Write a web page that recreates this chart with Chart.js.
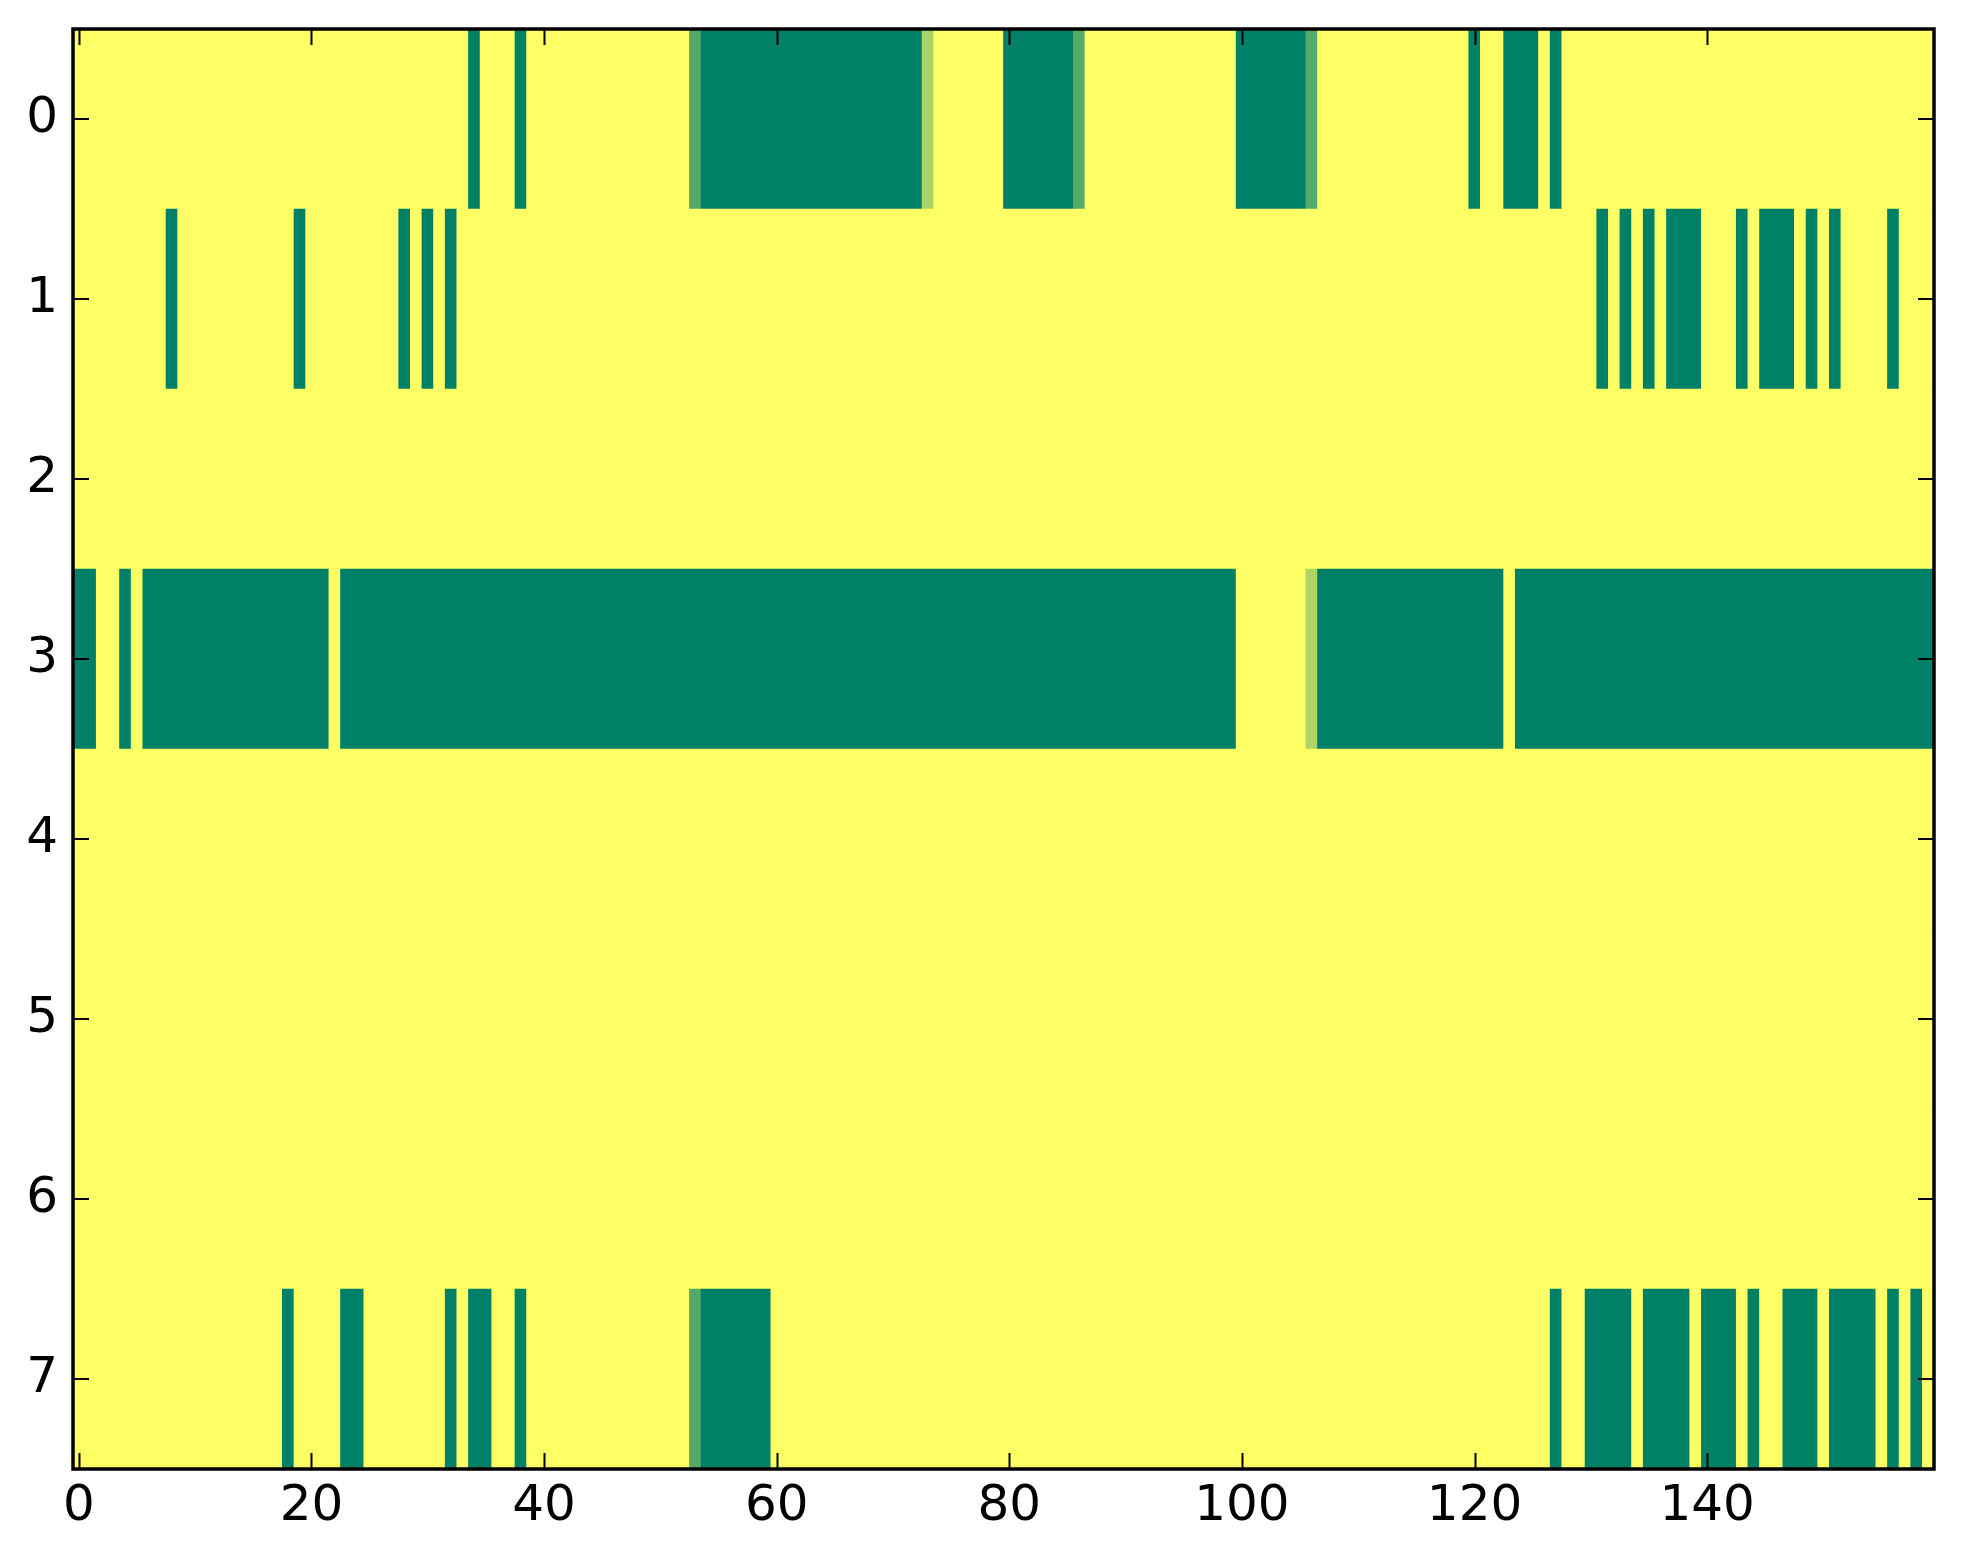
<!DOCTYPE html>
<html>
<head>
<meta charset="utf-8">
<script src="https://cdn.jsdelivr.net/npm/chart.js@4.4.1/dist/chart.umd.min.js"></script>
<style>
  html, body { margin: 0; padding: 0; background: #fff; }
  #box { width: 1963px; height: 1564px; }
</style>
</head>
<body>
<div id="box"><canvas id="heat"></canvas></div>
<script>
// cell values, 1 = yellow end of the map, 0 = green end
const rowLabels = ['0', '1', '2', '3', '4', '5', '6', '7'];
const xTickValues = [0, 20, 40, 60, 80, 100, 120, 140];

const row0 = [
  1,1,1,1,1,1,1,1,1,1, 1,1,1,1,1,1,1,1,1,1,
  1,1,1,1,1,1,1,1,1,1, 1,1,1,1,0,1,1,1,0,1,
  1,1,1,1,1,1,1,1,1,1, 1,1,1,0.33,0,0,0,0,0,0,
  0,0,0,0,0,0,0,0,0,0, 0,0,0,0.67,1,1,1,1,1,1,
  0,0,0,0,0,0,0.33,1,1,1, 1,1,1,1,1,1,1,1,1,1,
  0,0,0,0,0,0,0.33,1,1,1, 1,1,1,1,1,1,1,1,1,1,
  0,1,1,0,0,0,1,0,1,1, 1,1,1,1,1,1,1,1,1,1,
  1,1,1,1,1,1,1,1,1,1, 1,1,1,1,1,1,1,1,1,1
];
const row1 = [
  1,1,1,1,1,1,1,1,0,1, 1,1,1,1,1,1,1,1,1,0,
  1,1,1,1,1,1,1,1,0,1, 0,1,0,1,1,1,1,1,1,1,
  1,1,1,1,1,1,1,1,1,1, 1,1,1,1,1,1,1,1,1,1,
  1,1,1,1,1,1,1,1,1,1, 1,1,1,1,1,1,1,1,1,1,
  1,1,1,1,1,1,1,1,1,1, 1,1,1,1,1,1,1,1,1,1,
  1,1,1,1,1,1,1,1,1,1, 1,1,1,1,1,1,1,1,1,1,
  1,1,1,1,1,1,1,1,1,1, 1,0,1,0,1,0,1,0,0,0,
  1,1,1,0,1,0,0,0,1,0, 1,0,1,1,1,1,0,1,1,1
];
const row2 = [
  1,1,1,1,1,1,1,1,1,1, 1,1,1,1,1,1,1,1,1,1,
  1,1,1,1,1,1,1,1,1,1, 1,1,1,1,1,1,1,1,1,1,
  1,1,1,1,1,1,1,1,1,1, 1,1,1,1,1,1,1,1,1,1,
  1,1,1,1,1,1,1,1,1,1, 1,1,1,1,1,1,1,1,1,1,
  1,1,1,1,1,1,1,1,1,1, 1,1,1,1,1,1,1,1,1,1,
  1,1,1,1,1,1,1,1,1,1, 1,1,1,1,1,1,1,1,1,1,
  1,1,1,1,1,1,1,1,1,1, 1,1,1,1,1,1,1,1,1,1,
  1,1,1,1,1,1,1,1,1,1, 1,1,1,1,1,1,1,1,1,1
];
const row3 = [
  0,0,1,1,0,1,0,0,0,0, 0,0,0,0,0,0,0,0,0,0,
  0,0,1,0,0,0,0,0,0,0, 0,0,0,0,0,0,0,0,0,0,
  0,0,0,0,0,0,0,0,0,0, 0,0,0,0,0,0,0,0,0,0,
  0,0,0,0,0,0,0,0,0,0, 0,0,0,0,0,0,0,0,0,0,
  0,0,0,0,0,0,0,0,0,0, 0,0,0,0,0,0,0,0,0,0,
  1,1,1,1,1,1,0.67,0,0,0, 0,0,0,0,0,0,0,0,0,0,
  0,0,0,1,0,0,0,0,0,0, 0,0,0,0,0,0,0,0,0,0,
  0,0,0,0,0,0,0,0,0,0, 0,0,0,0,0,0,0,0,0,0
];
const row4 = [
  1,1,1,1,1,1,1,1,1,1, 1,1,1,1,1,1,1,1,1,1,
  1,1,1,1,1,1,1,1,1,1, 1,1,1,1,1,1,1,1,1,1,
  1,1,1,1,1,1,1,1,1,1, 1,1,1,1,1,1,1,1,1,1,
  1,1,1,1,1,1,1,1,1,1, 1,1,1,1,1,1,1,1,1,1,
  1,1,1,1,1,1,1,1,1,1, 1,1,1,1,1,1,1,1,1,1,
  1,1,1,1,1,1,1,1,1,1, 1,1,1,1,1,1,1,1,1,1,
  1,1,1,1,1,1,1,1,1,1, 1,1,1,1,1,1,1,1,1,1,
  1,1,1,1,1,1,1,1,1,1, 1,1,1,1,1,1,1,1,1,1
];
const row5 = [
  1,1,1,1,1,1,1,1,1,1, 1,1,1,1,1,1,1,1,1,1,
  1,1,1,1,1,1,1,1,1,1, 1,1,1,1,1,1,1,1,1,1,
  1,1,1,1,1,1,1,1,1,1, 1,1,1,1,1,1,1,1,1,1,
  1,1,1,1,1,1,1,1,1,1, 1,1,1,1,1,1,1,1,1,1,
  1,1,1,1,1,1,1,1,1,1, 1,1,1,1,1,1,1,1,1,1,
  1,1,1,1,1,1,1,1,1,1, 1,1,1,1,1,1,1,1,1,1,
  1,1,1,1,1,1,1,1,1,1, 1,1,1,1,1,1,1,1,1,1,
  1,1,1,1,1,1,1,1,1,1, 1,1,1,1,1,1,1,1,1,1
];
const row6 = [
  1,1,1,1,1,1,1,1,1,1, 1,1,1,1,1,1,1,1,1,1,
  1,1,1,1,1,1,1,1,1,1, 1,1,1,1,1,1,1,1,1,1,
  1,1,1,1,1,1,1,1,1,1, 1,1,1,1,1,1,1,1,1,1,
  1,1,1,1,1,1,1,1,1,1, 1,1,1,1,1,1,1,1,1,1,
  1,1,1,1,1,1,1,1,1,1, 1,1,1,1,1,1,1,1,1,1,
  1,1,1,1,1,1,1,1,1,1, 1,1,1,1,1,1,1,1,1,1,
  1,1,1,1,1,1,1,1,1,1, 1,1,1,1,1,1,1,1,1,1,
  1,1,1,1,1,1,1,1,1,1, 1,1,1,1,1,1,1,1,1,1
];
const row7 = [
  1,1,1,1,1,1,1,1,1,1, 1,1,1,1,1,1,1,1,0,1,
  1,1,1,0,0,1,1,1,1,1, 1,1,0,1,0,0,1,1,0,1,
  1,1,1,1,1,1,1,1,1,1, 1,1,1,0.33,0,0,0,0,0,0,
  1,1,1,1,1,1,1,1,1,1, 1,1,1,1,1,1,1,1,1,1,
  1,1,1,1,1,1,1,1,1,1, 1,1,1,1,1,1,1,1,1,1,
  1,1,1,1,1,1,1,1,1,1, 1,1,1,1,1,1,1,1,1,1,
  1,1,1,1,1,1,1,0,1,1, 0,0,0,0,1,0,0,0,0,1,
  0,0,0,1,0,1,1,0,0,0, 1,0,0,0,0,1,0,1,0,1
];

const rows = [row0, row1, row2, row3, row4, row5, row6, row7];

// matplotlib "summer" map
function summer(v) {
  const r = Math.round(255 * v);
  const g = Math.round(255 * (0.5 + v / 2));
  return 'rgb(' + r + ',' + g + ',102)';
}

// merge neighbouring equal cells into one floating bar per run (no seams)
const cells = [];
const cellColors = [];
rows.forEach((vals, r) => {
  let start = 0;
  for (let c = 1; c <= vals.length; c++) {
    if (c === vals.length || vals[c] !== vals[start]) {
      cells.push({x: [start - 0.5, c - 0.5], y: rowLabels[r]});
      cellColors.push(summer(vals[start]));
      start = c;
    }
  }
});

const tickFont = {family: 'DejaVu Sans', size: 50};

// inward ticks on all four sides plus the black frame
const framePlugin = {
  id: 'frame',
  afterDraw(chart) {
    const {ctx, chartArea: a} = chart;
    const x = chart.scales.x, y = chart.scales.y;
    const len = 16;
    ctx.save();
    ctx.strokeStyle = '#000';
    ctx.lineWidth = 2;
    ctx.beginPath();
    x.ticks.forEach(t => {
      const px = Math.round(x.getPixelForValue(t.value)) + 0.5;
      ctx.moveTo(px, a.bottom); ctx.lineTo(px, a.bottom - len);
      ctx.moveTo(px, a.top); ctx.lineTo(px, a.top + len);
    });
    y.ticks.forEach((t, i) => {
      const py = Math.round(y.getPixelForTick(i));
      ctx.moveTo(a.left, py); ctx.lineTo(a.left + len, py);
      ctx.moveTo(a.right, py); ctx.lineTo(a.right - len, py);
    });
    ctx.stroke();
    ctx.lineWidth = 3.5;
    ctx.strokeRect(a.left, a.top, a.right - a.left, a.bottom - a.top);
    ctx.restore();
  }
};

new Chart(document.getElementById('heat'), {
  type: 'bar',
  data: {
    labels: rowLabels,
    datasets: [{
      data: cells,
      backgroundColor: cellColors,
      borderWidth: 0,
      borderSkipped: false,
      barPercentage: 1,
      categoryPercentage: 1
    }]
  },
  options: {
    indexAxis: 'y',
    responsive: true,
    maintainAspectRatio: false,
    animation: false,
    layout: {padding: {top: 29, right: 29, left: 0, bottom: 0}},
    plugins: {legend: {display: false}, tooltip: {enabled: false}},
    scales: {
      x: {
        type: 'linear',
        position: 'bottom',
        min: -0.5,
        max: 159.5,
        grid: {display: false, drawTicks: false},
        border: {display: false},
        afterBuildTicks: s => { s.ticks = xTickValues.map(v => ({value: v})); },
        afterFit: s => { s.height = 95; s.paddingLeft = 0; s.paddingRight = 0; },
        ticks: {font: tickFont, color: '#000', padding: 8, maxRotation: 0, autoSkip: false}
      },
      y: {
        type: 'category',
        position: 'left',
        grid: {display: false, drawTicks: false},
        border: {display: false},
        afterFit: s => { s.width = 73; s.paddingTop = 0; s.paddingBottom = 0; },
        ticks: {font: tickFont, color: '#000', padding: 15, autoSkip: false}
      }
    }
  },
  plugins: [framePlugin]
});
</script>
</body>
</html>
